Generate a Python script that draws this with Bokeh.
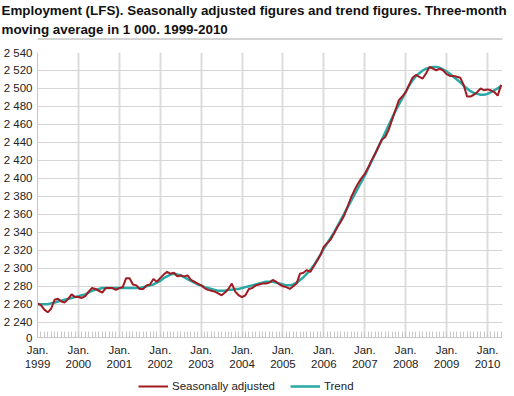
from bokeh.plotting import figure
from bokeh.layouts import column
from bokeh.models import (FixedTicker, Title, Legend, LegendItem, Range1d, LinearAxis)
from bokeh.embed import file_html
from bokeh.resources import INLINE

# ---------------- data (thousands, monthly, Jan 1999 - May 2010) ----------------
years = [1999, 2000, 2001, 2002, 2003, 2004, 2005, 2006, 2007, 2008, 2009, 2010]

seasonally_adjusted = [
    2261, 2259, 2254, 2251, 2255, 2265, 2266, 2263, 2262, 2266, 2271, 2268,  # 1999
    2268, 2267, 2269, 2274, 2278, 2277, 2275, 2273, 2278, 2278, 2278, 2276,  # 2000
    2278, 2279, 2289, 2289, 2282, 2281, 2277, 2277, 2281, 2282, 2288, 2285,  # 2001
    2289, 2293, 2296, 2294, 2295, 2291, 2292, 2291, 2292, 2287, 2285, 2283,  # 2002
    2281, 2278, 2276, 2275, 2274, 2272, 2270, 2273, 2277, 2283, 2274, 2270,  # 2003
    2268, 2270, 2277, 2278, 2281, 2282, 2283, 2283, 2284, 2287, 2285, 2282,  # 2004
    2280, 2279, 2277, 2280, 2283, 2294, 2295, 2298, 2296, 2302, 2308, 2315,  # 2005
    2324, 2328, 2332, 2339, 2346, 2352, 2359, 2369, 2379, 2387, 2394, 2400,  # 2006
    2405, 2412, 2420, 2427, 2435, 2443, 2446, 2454, 2465, 2476, 2487, 2491,  # 2007
    2496, 2504, 2512, 2515, 2513, 2511, 2517, 2524, 2522, 2520, 2522, 2520,  # 2008
    2516, 2514, 2514, 2513, 2512, 2504, 2491, 2491, 2493, 2496, 2500, 2498,  # 2009
    2499, 2498, 2496, 2492, 2504,                                            # 2010
]

trend = [
    2260, 2260, 2260, 2260, 2261, 2262, 2263, 2264, 2265, 2266, 2267, 2268,  # 1999
    2269, 2270, 2271, 2273, 2275, 2276, 2277, 2278, 2278, 2278, 2278, 2278,  # 2000
    2278, 2278, 2278, 2278, 2278, 2278, 2278, 2279, 2280, 2281, 2282, 2284,  # 2001
    2286, 2289, 2291, 2293, 2294, 2293, 2292, 2290, 2288, 2286, 2284, 2282,  # 2002
    2281, 2279, 2278, 2277, 2276, 2275, 2275, 2275, 2276, 2276, 2277, 2277,  # 2003
    2278, 2279, 2280, 2281, 2282, 2283, 2284, 2285, 2285, 2285, 2284, 2283,  # 2004
    2282, 2281, 2281, 2282, 2284, 2287, 2290, 2294, 2298, 2303, 2309, 2315,  # 2005
    2322, 2328, 2334, 2340, 2347, 2354, 2361, 2368, 2375, 2382, 2389, 2396,  # 2006
    2403, 2411, 2419, 2427, 2435, 2443, 2451, 2459, 2467, 2475, 2482, 2489,  # 2007
    2496, 2503, 2509, 2514, 2517, 2520, 2522, 2523, 2524, 2524, 2523, 2521,  # 2008
    2519, 2516, 2513, 2510, 2507, 2503, 2500, 2497, 2495, 2494, 2493, 2493,  # 2009
    2494, 2496, 2498, 2500, 2503,                                            # 2010
]

month_index = list(range(len(seasonally_adjusted)))
year_ticks = [12 * i for i in range(len(years))]
month_labels = ["Jan."] * len(years)
year_labels = [str(y) for y in years]

y_ticks = list(range(2240, 2541, 20))
y_labels = ["%d %03d" % (v // 1000, v % 1000) for v in y_ticks]
y_break = 2223          # position where the broken axis shows "0"
y_break_label = "0"

title_text = ("Employment (LFS). Seasonally adjusted figures and trend figures. Three-month\n"
              "moving average in 1 000. 1999-2010")
series_names = ["Seasonally adjusted", "Trend"]

RED = "#a01b22"
TEAL = "#2aa8a5"
FONT = "Liberation Sans"
TXT = "#222222"
BL, BR = 37, 12   # left / right borders shared by all stacked figures


def strip(height, top, bottom, fill):
    f = figure(width=514, height=height, output_backend="svg", toolbar_location=None,
               x_range=Range1d(0, 1), y_range=Range1d(0, 1),
               x_axis_location=None, y_axis_location=None,
               min_border_left=BL, min_border_right=BR, min_border_top=top,
               min_border_bottom=bottom, outline_line_color=None,
               background_fill_color=fill, border_fill_color="white")
    f.grid.visible = False
    return f


# ---------------- header: two-line title; its 1px frame is the grey rule ----------------
hf = strip(40, 37, 2, "#a8a8a8")
hf.add_layout(Title(text=title_text, align="left", offset=-36,
                    text_font=FONT, text_font_size="13.4px", text_font_style="bold",
                    text_color="#111111", text_line_height=1.25, standoff=3), "above")

# ---------------- main chart ----------------
p = figure(width=514, height=332, output_backend="svg", toolbar_location=None,
           x_range=Range1d(0, 136.4), y_range=Range1d(y_break, 2540),
           min_border_left=BL, min_border_right=BR, min_border_top=12,
           min_border_bottom=35, outline_line_color=None)

r_tr = p.line(month_index, trend, line_color=TEAL, line_width=2.5)
r_sa = p.line(month_index, seasonally_adjusted, line_color=RED, line_width=2)

# x axis: "Jan." row
xa = p.xaxis[0]
xa.ticker = FixedTicker(ticks=year_ticks, minor_ticks=month_index)
xa.major_label_overrides = dict(zip(year_ticks, month_labels))
xa.axis_line_color = "#c8c8c8"
xa.major_tick_in = 0
xa.major_tick_out = 0
xa.minor_tick_in = 6
xa.minor_tick_out = 0
xa.minor_tick_line_color = "#c8c8c8"
xa.major_label_text_font = FONT
xa.major_label_text_font_size = "11.5px"
xa.major_label_text_color = TXT
xa.major_label_standoff = 6

# x axis: year row
xa2 = LinearAxis(ticker=FixedTicker(ticks=year_ticks, minor_ticks=[]),
                 major_label_overrides=dict(zip(year_ticks, year_labels)),
                 axis_line_color=None, major_tick_in=0, major_tick_out=0,
                 minor_tick_in=0, minor_tick_out=0,
                 major_label_text_font=FONT, major_label_text_font_size="11.5px",
                 major_label_text_color=TXT, major_label_standoff=1)
p.add_layout(xa2, "below")

# y axis (broken: 0, then 2 240 ... 2 540)
ya = p.yaxis[0]
ya.ticker = FixedTicker(ticks=[y_break] + y_ticks, minor_ticks=[])
ov = dict(zip(y_ticks, y_labels))
ov[y_break] = y_break_label
ya.major_label_overrides = ov
ya.axis_line_color = "#c8c8c8"
ya.major_tick_in = 0
ya.major_tick_out = 0
ya.major_label_text_font = FONT
ya.major_label_text_font_size = "11.5px"
ya.major_label_text_color = TXT
ya.major_label_standoff = 5

# grids
p.xgrid.ticker = FixedTicker(ticks=year_ticks)
p.xgrid.grid_line_color = "#dcdcdc"
p.xgrid.grid_line_width = 2
p.ygrid.ticker = FixedTicker(ticks=y_ticks)
p.ygrid.grid_line_color = "#d6d6d6"
p.ygrid.grid_line_width = 1

# ---------------- legend strip ----------------
lf = strip(22, 0, 0, "white")
# same series, drawn outside this strip's visible range: only used as legend keys
k_sa = lf.line(month_index, seasonally_adjusted, line_color=RED, line_width=2)
k_tr = lf.line(month_index, trend, line_color=TEAL, line_width=2.5)
legend = Legend(items=[LegendItem(label=series_names[0], renderers=[k_sa]),
                       LegendItem(label=series_names[1], renderers=[k_tr])],
                orientation="horizontal", location=(101, 2),
                glyph_width=30, glyph_height=12, label_standoff=4, spacing=15,
                label_text_font=FONT, label_text_font_size="11.5px",
                label_text_color=TXT, border_line_color=None,
                background_fill_alpha=0, padding=2, margin=0)
lf.add_layout(legend)

# ---------------- bottom rule (a 2px strip whose frame is grey) ----------------
rf = strip(2, 0, 0, "#d4d4d4")

layout = column(hf, p, lf, rf, spacing=0)

open("out.html", "w").write(file_html(layout, INLINE))
